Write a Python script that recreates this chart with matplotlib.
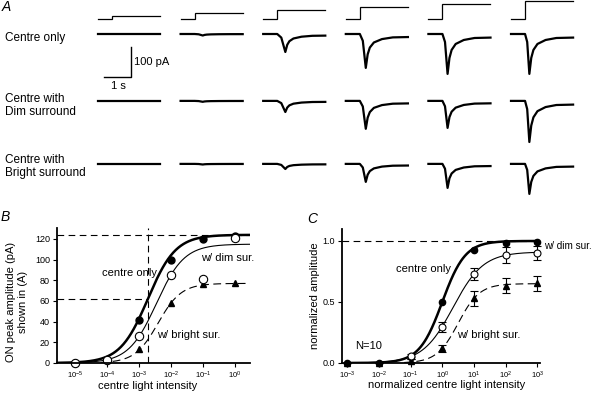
import numpy as np
import matplotlib
matplotlib.use("Agg")
import matplotlib.pyplot as plt
from matplotlib.ticker import NullLocator, FixedLocator

plt.rcParams["font.family"] = ["Liberation Sans", "DejaVu Sans"]

# ---------------- data ----------------
# panel A: six centre intensities, three conditions
a_intensity_exp = [-5, -4, -3, -2, -1, 0]
a_row_labels = [
    "Centre only",
    "Centre with\nDim surround",
    "Centre with\nBright surround",
]
# peak inward current of each trace (pA)
a_peak_pa = [
    [0, 5, 60, 113, 133, 133],
    [0, 3, 37, 93, 90, 137],
    [0, 2, 17, 60, 80, 100],
]
# time from light step to peak (s)
a_peak_delay = [0.30, 0.30, 0.30, 0.22, 0.19, 0.16]
# decay of the response after the peak: time after peak (s), fraction of peak
a_decay_t = [0.0, 0.07, 0.15, 0.30, 0.60, 1.00]
a_decay_f = [1.0, 0.60, 0.40, 0.25, 0.15, 0.10]

# panel B
b_x_exp = [-5, -4, -3, -2, -1, 0]
b_centre = [0, 3, 42, 100, 120, 123]
b_dim = [0, 3, 26, 85, 81, 121]
b_bright_x_exp = [-3, -2, -1, 0]
b_bright = [14, 58, 76, 77]
# Hill fits: max, half-saturation intensity, slope
b_fit_centre = (124, 1.9e-3, 1.0)
b_fit_dim = (115, 3.5e-3, 1.0)
b_fit_bright = (77, 3.95e-3, 1.2)
b_half_intensity = 1.9e-3

# panel C
c_x_exp = [-3, -2, -1, 0, 1, 2, 3]
c_centre = [0, 0, 0.05, 0.50, 0.93, 0.986, 0.99]
c_centre_err = [0, 0, 0.01, 0.012, 0.012, 0.01, 0.01]
c_dim_x_exp = [-1, 0, 1, 2, 3]
c_dim = [0.054, 0.294, 0.727, 0.885, 0.90]
c_dim_err = [0.02, 0.04, 0.05, 0.066, 0.06]
c_bright = [0, 0, 0.02, 0.12, 0.53, 0.635, 0.654]
c_bright_err = [0, 0, 0.01, 0.03, 0.06, 0.058, 0.06]
c_fit_centre = (1.0, 1.0, 1.2)
c_fit_dim = (0.91, 2.18, 0.91)
c_fit_bright = (0.65, 3.16, 1.29)


def hill(x, fit):
    top, half, n = fit
    return top / (1 + (half / x) ** n)


fig = plt.figure(figsize=(5.94, 3.96), dpi=100)
W, H = 594.0, 396.0


def frac(px, py):
    return px / W, 1 - py / H


# ---------------- panel A ----------------
# axes in seconds / pA: 27 px per s, 30 px per 100 pA
ax_a = fig.add_axes([0, 1 - 200 / H, 1, 200 / H])
ax_a.set_xlim(-98 / 27, (W - 98) / 27)
ax_a.set_ylim(-(200 - 34) * 100 / 30, 34 * 100 / 30)
ax_a.axis("off")

col_step = 82.6 / 27
row_offset = [0, -223, -433]
t_on = 0.52
t_end = 2.3
stim_base = 50
stim_unit = 10

for j, e in enumerate(a_intensity_exp):
    x0 = j * col_step
    lvl = stim_base + (e + 6) * stim_unit
    ax_a.plot(
        [x0, x0 + t_on, x0 + t_on, x0 + t_end],
        [stim_base, stim_base, lvl, lvl],
        color="black", lw=0.9, solid_joinstyle="miter"
    )

for i, row in enumerate(a_peak_pa):
    for j, amp in enumerate(row):
        x0 = j * col_step
        d = a_peak_delay[j]
        t = [0, t_on, t_on + 0.5 * d, t_on + d]
        f = [0, 0, 0.2, 1.0]
        for dt, df in zip(a_decay_t[1:], a_decay_f[1:]):
            t.append(t_on + d + dt)
            f.append(df)
        t.append(t_end)
        f.append(a_decay_f[-1] * 0.9)
        t = np.array(t) + x0
        y = row_offset[i] - amp * np.array(f)
        ax_a.plot(t, y, color="black", lw=1.6)

# scale bar: 1 s, 100 pA
sb_x = 1.22
sb_y = -143
ax_a.plot([sb_x - 1, sb_x, sb_x], [sb_y, sb_y, sb_y + 100],
          color="black", lw=1.0)
ax_a.text(sb_x + 0.1, sb_y + 50, "100 pA", fontsize=8,
          ha="left", va="center")
ax_a.text(sb_x - 0.48, sb_y - 30, "1 s", fontsize=8,
          ha="center", va="center")

for label, py in zip(a_row_labels, [37.5, 105.5, 166.5]):
    fx, fy = frac(5, py)
    fig.text(fx, fy, label, fontsize=8.5, ha="left", va="center",
             linespacing=1.15)

for letter, px, py in [("A", 2, 7), ("B", 1, 217), ("C", 307, 219)]:
    fx, fy = frac(px, py)
    fig.text(fx, fy, letter, fontsize=10, style="italic",
             ha="left", va="center")


def style_axes(ax):
    for s in ["top", "right"]:
        ax.spines[s].set_visible(False)
    for s in ["left", "bottom"]:
        ax.spines[s].set_linewidth(1.3)
    ax.tick_params(direction="out", length=3, width=0.8,
                   labelsize=6.5, pad=2)
    ax.xaxis.set_minor_locator(NullLocator())


dash = (0, (6, 4))

# ---------------- panel B ----------------
ax_b = fig.add_axes([57 / W, 33 / H, 193 / W, 135 / H])
ax_b.set_xscale("log")
xmin_b, xmax_b = 10 ** -5.56, 10 ** 0.47
ax_b.set_xlim(xmin_b, xmax_b)
ax_b.set_ylim(0, 130.6)
style_axes(ax_b)
ax_b.xaxis.set_major_locator(FixedLocator([10.0 ** e for e in b_x_exp]))
ax_b.set_yticks([0, 20, 40, 60, 80, 100, 120])
ax_b.tick_params(axis="x", labelsize=5.5)

xs = np.logspace(-5.56, 0.47, 300)
ax_b.axhline(b_fit_centre[0], color="black", lw=0.8, ls=dash)
ax_b.plot([xmin_b, b_half_intensity], [b_fit_centre[0] / 2] * 2,
          color="black", lw=0.8, ls=dash)
ax_b.axvline(b_half_intensity, color="black", lw=0.8, ls=dash)

ax_b.plot(xs, hill(xs, b_fit_centre), color="black", lw=1.8)
ax_b.plot(xs, hill(xs, b_fit_dim), color="black", lw=0.8)
xs_b = np.logspace(-4.2, 0.47, 300)
ax_b.plot(xs_b, hill(xs_b, b_fit_bright), color="black", lw=0.8,
          ls=(0, (7, 4)))

bx = [10.0 ** e for e in b_x_exp]
ax_b.plot(bx, b_centre, "o", color="black", ms=5, clip_on=False)
ax_b.plot([10.0 ** e for e in b_bright_x_exp], b_bright, "^",
          color="black", ms=5, clip_on=False)
ax_b.plot(bx, b_dim, "o", mfc="white", mec="black", mew=0.8, ms=6,
          clip_on=False)

ax_b.text(10 ** -3.28, 87, "centre only", fontsize=8, ha="center",
          va="center")
ax_b.text(10 ** -1.06, 102, "w/ dim sur.", fontsize=8, ha="left",
          va="center")
ax_b.text(10 ** -2.44, 27, "w/ bright sur.", fontsize=8, ha="left",
          va="center")

ax_b.set_ylabel("ON peak amplitude (pA)\nshown in (A)", fontsize=8,
                linespacing=1.25)
ax_b.yaxis.set_label_coords(-0.15, 0.45)
ax_b.set_xlabel("centre light intensity", fontsize=8)
ax_b.xaxis.set_label_coords(0.47, -0.13)

# ---------------- panel C ----------------
ax_c = fig.add_axes([342 / W, 33 / H, 198 / W, 134 / H])
ax_c.set_xscale("log")
xmin_c, xmax_c = 10 ** -3.16, 10 ** 3.08
ax_c.set_xlim(xmin_c, xmax_c)
ax_c.set_ylim(0, 1.098)
style_axes(ax_c)
ax_c.xaxis.set_major_locator(FixedLocator([10.0 ** e for e in c_x_exp]))
ax_c.set_yticks([0, 0.5, 1.0])
ax_c.set_yticklabels(["0.0", "0.5", "1.0"])
ax_c.tick_params(axis="x", labelsize=5.5)

ax_c.axhline(1.0, color="black", lw=0.8, ls=dash)

xs = np.logspace(-3, 3, 300)
ax_c.plot(xs, hill(xs, c_fit_centre), color="black", lw=1.8)
ax_c.plot(xs, hill(xs, c_fit_dim), color="black", lw=0.8)
xs_c = np.logspace(-1.2, 3, 300)
ax_c.plot(xs_c, hill(xs_c, c_fit_bright), color="black", lw=0.8,
          ls=(0, (7, 4)))

cx = [10.0 ** e for e in c_x_exp]
ax_c.errorbar(cx, c_centre, yerr=c_centre_err, fmt="o", color="black",
              ms=4.5, capsize=2.5, elinewidth=0.8, capthick=0.8,
              clip_on=False)
ax_c.errorbar(cx, c_bright, yerr=c_bright_err, fmt="^", color="black",
              ms=4.5, capsize=3, elinewidth=0.8, capthick=0.8,
              clip_on=False)
ax_c.errorbar([10.0 ** e for e in c_dim_x_exp], c_dim, yerr=c_dim_err,
              fmt="o", mfc="white", mec="black", ecolor="black", mew=0.8,
              ms=5, capsize=3, elinewidth=0.8, capthick=0.8,
              clip_on=False)

ax_c.text(10 ** -0.6, 0.77, "centre only", fontsize=8, ha="center",
          va="center")
ax_c.text(10 ** 3.22, 0.96, "w/ dim sur.", fontsize=7.2, ha="left",
          va="center", clip_on=False)
ax_c.text(10 ** 0.46, 0.23, "w/ bright sur.", fontsize=8, ha="left",
          va="center")
ax_c.text(10 ** -2.75, 0.14, "N=10", fontsize=8, ha="left",
          va="center")

ax_c.set_ylabel("normalized amplitude", fontsize=8)
ax_c.yaxis.set_label_coords(-0.11, 0.5)
ax_c.set_xlabel("normalized centre light intensity", fontsize=8)
ax_c.xaxis.set_label_coords(0.53, -0.13)

fig.savefig("out.png", dpi=100)
